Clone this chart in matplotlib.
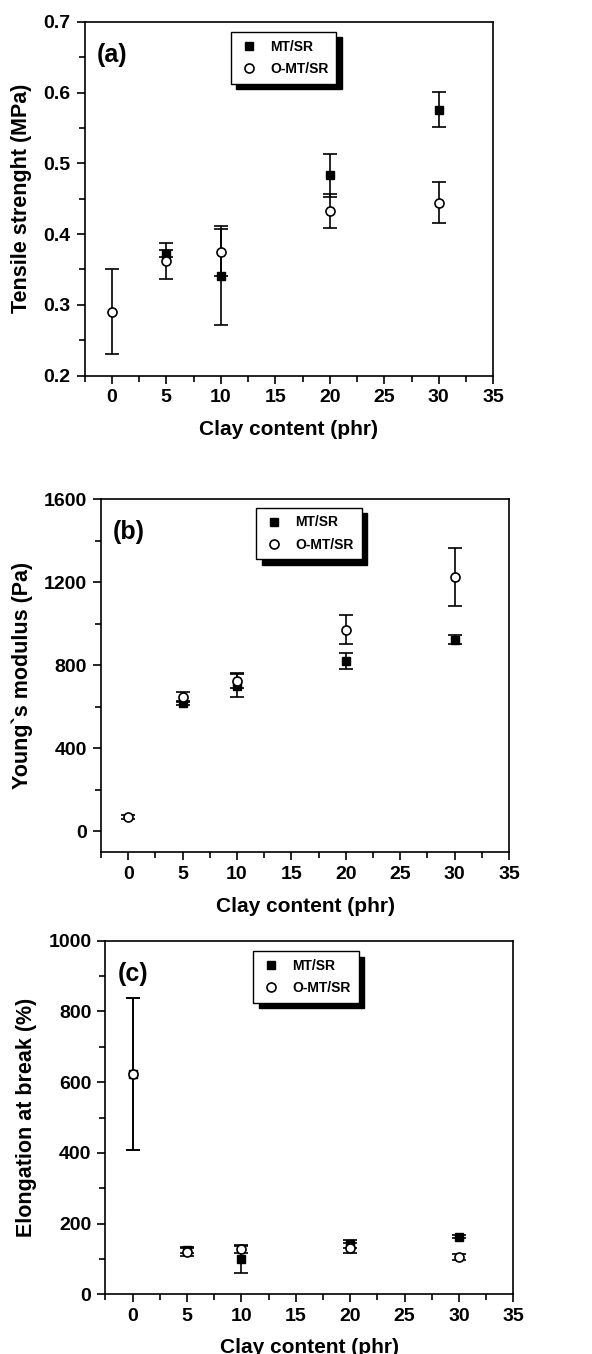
import numpy as np
import matplotlib
matplotlib.use("Agg")
import matplotlib.pyplot as plt
from matplotlib.ticker import MultipleLocator, FormatStrFormatter
from matplotlib.lines import Line2D

plt.rcParams['font.family'] = ['Liberation Sans', 'DejaVu Sans']
plt.rcParams['font.weight'] = 'bold'

clay = [0, 5, 10, 20, 30]

# (a) tensile strength, MPa
ts_mt = [np.nan, 0.372, 0.341, 0.483, 0.576]
ts_mt_err = [np.nan, 0.005, 0.070, 0.031, 0.025]
ts_omt = [0.290, 0.362, 0.374, 0.433, 0.444]
ts_omt_err = [0.060, 0.025, 0.033, 0.024, 0.029]

# (b) Young's modulus, Pa
ym_mt = [np.nan, 618, 700, 820, 923]
ym_mt_err = [np.nan, 10, 55, 40, 20]
ym_omt = [70, 645, 725, 971, 1225]
ym_omt_err = [10, 25, 35, 68, 138]

# (c) elongation at break, %
eb_mt = [623, 125, 99, 142, 163]
eb_mt_err = [214, 8, 38, 12, 5]
eb_omt = [623, 120, 128, 130, 106]
eb_omt_err = [214, 12, 12, 14, 8]

series_labels = ['MT/SR', 'O-MT/SR']
x_label = 'Clay content (phr)'

W, H = 592, 1354
fig = plt.figure(figsize=(W / 100, H / 100), dpi=100)


def px_axes(left, top, right, bottom):
    return fig.add_axes([left / W, 1 - bottom / H, (right - left) / W, (bottom - top) / H])


SQ = dict(marker='s', color='black', mfc='black', mec='black', ms=5.5)
CI = dict(marker='o', color='black', mfc='white', mec='black', ms=6.5, mew=1.2)


def draw_panel(ax, mt, mt_err, omt, omt_err, ylim, ymajor, yminor, yfmt, ylabel, tag,
               leg_anchor, xlabelpad=10):
    ax.errorbar(clay, mt, yerr=mt_err, linestyle='none', capsize=5, elinewidth=1.2,
                capthick=1.2, zorder=3, **SQ)
    ax.errorbar(clay, omt, yerr=omt_err, linestyle='none', capsize=5, elinewidth=1.2,
                capthick=1.2, zorder=4, **CI)
    ax.set_xlim(-2.5, 35)
    ax.set_ylim(*ylim)
    ax.xaxis.set_major_locator(MultipleLocator(5))
    ax.xaxis.set_minor_locator(MultipleLocator(2.5))
    ax.yaxis.set_major_locator(MultipleLocator(ymajor))
    ax.yaxis.set_minor_locator(MultipleLocator(yminor))
    ax.yaxis.set_major_formatter(yfmt)
    ax.tick_params(which='both', direction='out', top=False, right=False, width=1.2)
    ax.tick_params(which='major', length=6, labelsize=14, pad=4)
    ax.tick_params(which='minor', length=4)
    for s in ax.spines.values():
        s.set_linewidth(1.2)
    for lab in ax.get_xticklabels() + ax.get_yticklabels():
        lab.set_fontweight('bold')
    ax.set_xlabel(x_label, fontsize=15, fontweight='bold', labelpad=xlabelpad)
    ax.set_ylabel(ylabel, fontsize=15.5, fontweight='bold', labelpad=8)
    ax.text(0.03, 0.94, tag, transform=ax.transAxes, fontsize=18, fontweight='bold',
            va='top', ha='left')
    handles = [Line2D([], [], linestyle='none', **SQ), Line2D([], [], linestyle='none', **CI)]
    leg = ax.legend(handles, series_labels, loc='upper left', bbox_to_anchor=leg_anchor,
                    fancybox=False,
                    shadow={'color': 'black', 'alpha': 1, 'ox': 4, 'oy': -4},
                    prop={'size': 10, 'weight': 'bold'}, handletextpad=0.8,
                    borderpad=0.55, labelspacing=0.6, handlelength=1.5, borderaxespad=0)
    leg.get_frame().set_edgecolor('black')
    leg.get_frame().set_linewidth(1.0)
    return ax


ax_a = px_axes(84.5, 22, 493.3, 375.5)
draw_panel(ax_a, ts_mt, ts_mt_err, ts_omt, ts_omt_err, (0.2, 0.7), 0.1, 0.05,
           FormatStrFormatter('%.1f'), 'Tensile strenght (MPa)', '(a)', (0.358, 0.972))

ax_b = px_axes(101, 499, 509, 852)
draw_panel(ax_b, ym_mt, ym_mt_err, ym_omt, ym_omt_err, (-100, 1600), 400, 200,
           FormatStrFormatter('%d'), 'Young`s modulus (Pa)', '(b)', (0.38, 0.975))

ax_c = px_axes(105.3, 940.7, 513.3, 1294.3)
draw_panel(ax_c, eb_mt, eb_mt_err, eb_omt, eb_omt_err, (0, 1000), 200, 100,
           FormatStrFormatter('%d'), 'Elongation at break (%)', '(c)', (0.362, 0.971),
           xlabelpad=9)

fig.savefig('out.png', dpi=100)
